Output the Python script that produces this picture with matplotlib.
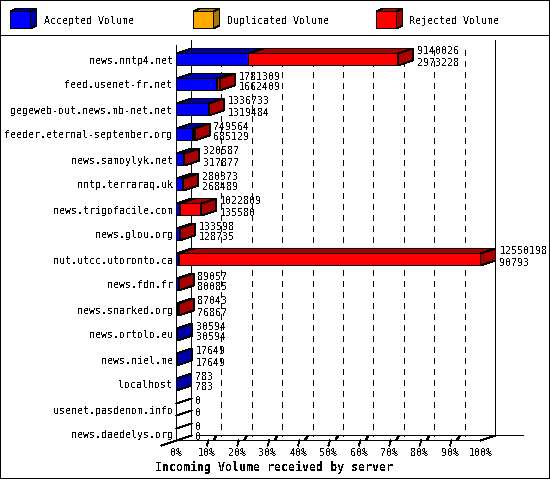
import matplotlib
matplotlib.use('Agg')
import matplotlib.pyplot as plt
from matplotlib.patches import Polygon, Rectangle

servers = ['news.nntp4.net', 'feed.usenet-fr.net', 'gegeweb-out.news.mb-net.net',
           'feeder.eternal-september.org', 'news.samoylyk.net', 'nntp.terraraq.uk',
           'news.trigofacile.com', 'news.glou.org', 'nut.utcc.utoronto.ca', 'news.fdn.fr',
           'news.snarked.org', 'news.ortolo.eu', 'news.niel.me', 'localhost',
           'usenet.pasdenom.info', 'news.daedelys.org']
total = [9140026, 1781309, 1336733, 749564, 320587, 280373, 1022809, 133598,
         12550198, 89057, 87043, 30594, 17649, 783, 0, 0]
accepted = [2973228, 1662409, 1319484, 685129, 317877, 268489, 135580, 128735,
            90793, 80085, 76867, 30594, 17649, 783, 0, 0]
pct_ticks = [0, 10, 20, 30, 40, 50, 60, 70, 80, 90, 100]
legend_names = ['Accepted Volume', 'Duplicated Volume', 'Rejected Volume']

BLUE, BLUE_D = '#0000ff', '#0000aa'
ORANGE, ORANGE_D = '#ffaa00', '#aa7700'
RED, RED_D = '#ff0000', '#aa0000'
MONO = 'DejaVu Sans Mono'
W, H = 550, 480
LW = 0.6

plt.rcParams['text.antialiased'] = False
plt.rcParams['patch.antialiased'] = False
plt.rcParams['lines.antialiased'] = False

fig = plt.figure(figsize=(W / 100, H / 100), dpi=100)

# overlay in pixels for the frame and the legend
bg = fig.add_axes([0, 0, 1, 1])
bg.set_xlim(0, W)
bg.set_ylim(H, 0)
bg.axis('off')

# the front plane of the chart: x in percent, y in rows
X0, X1 = 176.5, 480.5
Y0, Y1 = 47, 447
ax = fig.add_axes([X0 / W, 1 - Y1 / H, (X1 - X0) / W, (Y1 - Y0) / H])
ax.set_xlim(0, 100)
ax.set_ylim(15.5, -0.5)
ax.patch.set_alpha(0)
for s in ax.spines.values():
    s.set_visible(False)
ax.set_xticks([])
ax.set_yticks([])

px_x = 100 / (X1 - X0)
px_y = 1 / 25
DX = 15 * px_x
DY = -5 * px_y
HALF = 6 * px_y
FLOOR = 15 + HALF
TOP = -0.76
GRID_TOP = -0.4
vmax = max(total)


def poly(a, pts, fc, z):
    a.add_patch(Polygon(pts, closed=True, fc=fc, ec='black', lw=LW, zorder=z, clip_on=False, snap=False))


def line(xs, ys, z=2, lw=LW, snap=False, **kw):
    ax.plot(xs, ys, color='black', lw=lw, zorder=z, clip_on=False, snap=snap, **kw)


# back wall, floor
for t in pct_ticks[1:-1]:
    gx = t + DX - 0.5 * px_x
    line([gx, gx], [GRID_TOP, FLOOR + DY], z=1, lw=0.72, snap=True, dashes=(5.5, 5.5))
line([DX, DX], [TOP, FLOOR + DY], z=1)
line([100 + DX, 100 + DX], [TOP, FLOOR + DY], z=1)
line([DX + 3, 100 + DX + 28 * px_x], [FLOOR + DY, FLOOR + DY], z=1)
line([0, 100], [FLOOR, FLOOR])
line([0, 0], [TOP - DY, FLOOR])
line([-DX, 0], [FLOOR - DY, FLOOR])
line([100, 100 + DX], [FLOOR, FLOOR + DY])
for t in pct_ticks:
    if 0 < t < 100:
        line([t + 0.5, t], [FLOOR, FLOOR - DY])
        line([t + 2.5, t + 3.0], [FLOOR + 0.3 * DY, FLOOR + 0.8 * DY], lw=1.0)
    ax.annotate(f'{t}%', (t, FLOOR), xytext=(0, -13), textcoords='offset pixels', ha='center',
                va='center', family=MONO, fontsize=7.2, annotation_clip=False)

# bars
for i in range(len(servers)):
    a = 100 * accepted[i] / vmax
    b = 100 * total[i] / vmax
    y0, y1 = i - HALF, i + HALF
    z = 3 + i * 0.01
    if b == 0:
        line([0, DX], [y0, y0 + DY], z=z)
        line([0, DX], [y1, y1 + DY], z=z)
    else:
        poly(ax, [(0, y0), (DX, y0 + DY), (a + DX, y0 + DY), (a, y0)], BLUE_D, z)
        if b > a:
            poly(ax, [(a, y0), (a + DX, y0 + DY), (b + DX, y0 + DY), (b, y0)], RED_D, z)
        side = RED_D if b > a else BLUE_D
        poly(ax, [(b, y0), (b + DX, y0 + DY), (b + DX, y1 + DY), (b, y1)], side, z)
        ax.barh(i, a, height=2 * HALF, color=BLUE, edgecolor='black', lw=LW, zorder=z, snap=False)
        if b > a:
            ax.barh(i, b - a, left=a, height=2 * HALF, color=RED, edgecolor='black', lw=LW,
                    zorder=z, snap=False)
    ax.annotate(servers[i], (0, i), xytext=(-4, -1), textcoords='offset pixels', ha='right',
                va='center', family=MONO, fontsize=7.2, annotation_clip=False)
    ax.annotate(str(total[i]), (b + DX, i), xytext=(4, 8), textcoords='offset pixels',
                ha='left', va='center', family=MONO, fontsize=7.2, zorder=6, annotation_clip=False)
    ax.annotate(str(accepted[i]), (b + DX, i), xytext=(4, -3), textcoords='offset pixels',
                ha='left', va='center', family=MONO, fontsize=7.2, zorder=6, annotation_clip=False)

fig.text(274 / W, 1 - 467.5 / H, 'Incoming Volume received by server', ha='center', va='center',
         family=MONO, fontsize=8.4, fontweight='bold')

# frame and legend
bg.add_patch(Rectangle((0.5, 0.5), W - 1, 478, fc='none', ec='black', lw=LW, snap=False))
bg.plot([0, W], [35.5, 35.5], color='black', lw=LW, snap=False)
legend_x = [10.5, 193.5, 376.5]
legend_text_x = [44, 227, 409]
legend_front = [BLUE, ORANGE, RED]
legend_dark = [BLUE_D, ORANGE_D, RED_D]
for x, tx, name, f, d in zip(legend_x, legend_text_x, legend_names, legend_front, legend_dark):
    poly(bg, [(x, 11.5), (x + 6, 8.5), (x + 26, 8.5), (x + 20, 11.5)], d, 2)
    poly(bg, [(x + 20, 11.5), (x + 26, 8.5), (x + 26, 25.5), (x + 20, 28.5)], d, 2)
    bg.add_patch(Rectangle((x, 11.5), 20, 17, fc=f, ec='black', lw=LW, zorder=3, snap=False))
    bg.text(tx, 21, name, ha='left', va='center', family=MONO, fontsize=7.2)

fig.savefig('out.png', dpi=100, facecolor='white')
plt.close()
